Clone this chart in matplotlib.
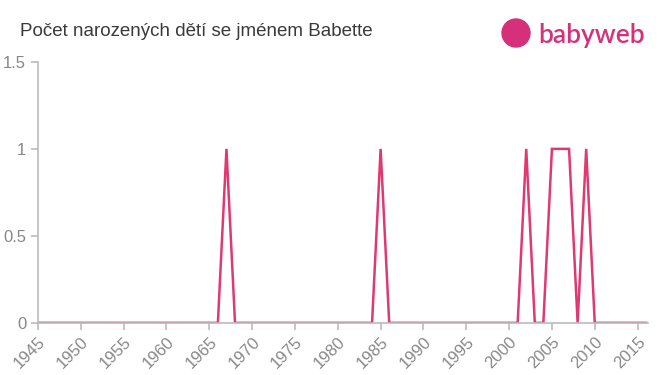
import numpy as np
from matplotlib import pyplot as plt
from matplotlib.patches import Ellipse

# Data
#------------------------------------------------------------------------------
years = list(range(1945, 2017))
peaks = {1967: 1, 1985: 1, 2002: 1, 2005: 1, 2006: 1, 2007: 1, 2009: 1}
counts = [peaks.get(y, 0) for y in years]
xticks = list(range(1945, 2016, 5))
yticks = [0, 0.5, 1, 1.5]
ytick_labels = ["0", "0.5", "1", "1.5"]

title = "Počet narozených dětí se jménem Babette"
line_color = "#e0396f"
axis_color = "#bbbbbb"
text_color = "#888888"

plt.rcParams['font.family'] = ['Liberation Sans', 'DejaVu Sans']

fig = plt.figure(figsize=(6.6, 3.75), dpi=100)
ax = fig.add_axes([0.0576, 0.139, 0.924, 0.696])

ax.plot(years, counts, color=line_color, lw=1.8, solid_joinstyle="miter")
ax.set_xlim(1945, 2016.2)
ax.set_ylim(0, 1.5)

ax.set_xticks(xticks)
ax.set_xticklabels([str(x) for x in xticks], rotation=45, ha="right",
                   rotation_mode="anchor", fontsize=12, color=text_color)
ax.set_yticks(yticks)
ax.set_yticklabels(ytick_labels, fontsize=12, color=text_color)

for s in ["top", "right"]:
    ax.spines[s].set_visible(False)
for s in ["left", "bottom"]:
    ax.spines[s].set_color(axis_color)
    ax.spines[s].set_linewidth(1.2)
ax.tick_params(axis="both", color=axis_color, length=5, width=1.2)
ax.tick_params(axis="x", pad=3)

fig.text(0.03, 0.915, title, fontsize=13.5, color="#3a3a3a", va="center")

# logo
logo_color = "#d6307a"
fig.patches.append(Ellipse((516 / 660, 1 - 33 / 375), 28 / 660, 28 / 375,
                           transform=fig.transFigure, color=logo_color,
                           figure=fig))
fig.text(538 / 660, 1 - 35 / 375, "babyweb", fontsize=19, color=logo_color,
         va="center", fontweight="semibold",
         family=["Lato", "DejaVu Sans"])

plt.savefig("out.png", dpi=100)
